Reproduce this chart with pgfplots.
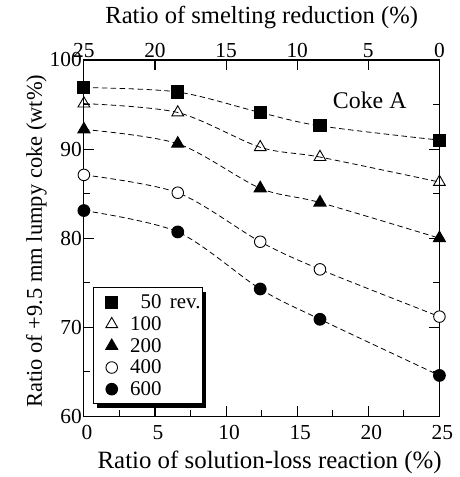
\documentclass[border=0pt]{standalone}
\usepackage{fontspec}
\setmainfont{Liberation Serif}
\usepackage{pgfplots}
\pgfplotsset{compat=1.18}
\usetikzlibrary{shadows}

% solution-loss ratio (%) vs. +9.5 mm lumpy coke (wt%), per drum revolutions
\pgfplotstableread{
x    r50   r100  r200  r400  r600
0    96.9  95.1  92.2  87.1  83.1
6.6  96.4  94.1  90.6  85.1  80.7
12.4 94.1  90.2  85.6  79.6  74.3
16.6 92.6  89.1  84.0  76.5  70.9
25   91.0  86.3  80.0  71.2  64.6
}\cokeA

\begin{document}
\begin{tikzpicture}
\pgfplotsset{
  every axis/.append style={
    scale only axis, width=356bp, height=357bp,
    line width=1.2pt,
    tick align=inside,
    major tick length=10bp, minor tick length=6bp,
    every tick/.style={line width=1.1pt},
    /pgf/number format/assume math mode=true,
    tick label style={font=\fontsize{21.5}{24}\selectfont},
  },
  curve/.style={dashed, dash pattern=on 5.5pt off 3.5pt, line width=0.8pt, smooth, tension=0.5, no marks, forget plot},
}
\begin{axis}[
  name=main,
  xmin=0, xmax=25, ymin=60, ymax=100,
  xtick={0,5,...,25}, ytick={60,70,...,100},
  minor x tick num=1, minor y tick num=1,
  xtick pos=lower, ytick pos=both,
  xticklabel style={anchor=base, yshift=-23bp, xshift=3bp},
  yticklabel style={anchor=east, inner xsep=1.5bp},
  xlabel={Ratio of solution-loss reaction (\%)},
  ylabel={Ratio of +9.5 mm lumpy coke (wt\%)},
  xlabel style={font=\fontsize{25}{27}\selectfont,
    at={(axis description cs:0.5,0)}, anchor=base, yshift=-52bp, xshift=8bp},
  ylabel style={font=\fontsize{22.6}{24}\selectfont,
    at={([xshift=-42bp,yshift=-3bp]axis description cs:0,0.5)}, anchor=base},
  legend cell align=left,
  legend style={at={(0.025,0.034)}, anchor=south west,
    draw=black, line width=1pt, fill=white,
    font=\fontsize{21}{21}\selectfont,
    inner xsep=1pt, inner ysep=5pt, row sep=2.3pt,
    nodes={inner xsep=1pt},
    drop shadow={shadow xshift=3.5pt, shadow yshift=-4pt, fill=black, opacity=1}},
  legend image code/.code={%
    \path (0bp,0bp) (34bp,0bp);
    \draw[mark repeat=2,mark phase=2,#1] plot coordinates {(0bp,0bp) (17bp,0bp) (34bp,0bp)};},
]
\addplot[curve] table[x=x,y=r50]{\cokeA};
\addplot[curve] table[x=x,y=r100]{\cokeA};
\addplot[curve] table[x=x,y=r200]{\cokeA};
\addplot[curve] table[x=x,y=r400]{\cokeA};
\addplot[curve] table[x=x,y=r600]{\cokeA};

\addplot[only marks, mark=square*, mark size=6bp, fill=black] table[x=x,y=r50]{\cokeA};
\addlegendentry{\phantom{1}50\hspace{0.4em}rev.}
\addplot[only marks, mark=triangle, mark size=6.8bp, line width=0.9pt, mark options={fill=white}] table[x=x,y=r100]{\cokeA};
\addlegendentry{100}
\addplot[only marks, mark=triangle*, mark size=6.8bp, fill=black] table[x=x,y=r200]{\cokeA};
\addlegendentry{200}
\addplot[only marks, mark=*, mark size=5.8bp, line width=0.9pt, mark options={fill=white}] table[x=x,y=r400]{\cokeA};
\addlegendentry{400}
\addplot[only marks, mark=*, mark size=5.8bp, fill=black] table[x=x,y=r600]{\cokeA};
\addlegendentry{600}

\node[anchor=base, font=\fontsize{24}{26}\selectfont] at (axis cs:20.1,94.6) {Coke A};
\end{axis}

% upper scale: smelting reduction runs opposite to solution loss
\begin{axis}[
  xmin=0, xmax=25, ymin=60, ymax=100,
  x dir=reverse,
  axis x line*=top, hide y axis,
  xtick={0,5,...,25},
  xticklabel style={anchor=base, yshift=2bp},
  xlabel={Ratio of smelting reduction (\%)},
  xlabel style={font=\fontsize{24.7}{26}\selectfont,
    at={(axis description cs:0.5,1)}, anchor=base, yshift=36bp},
]
\end{axis}

% fixed page frame around the plot
\path (main.south west) ++(-84bp,-60bp) rectangle ++(460bp,477bp);
\end{tikzpicture}
\end{document}
